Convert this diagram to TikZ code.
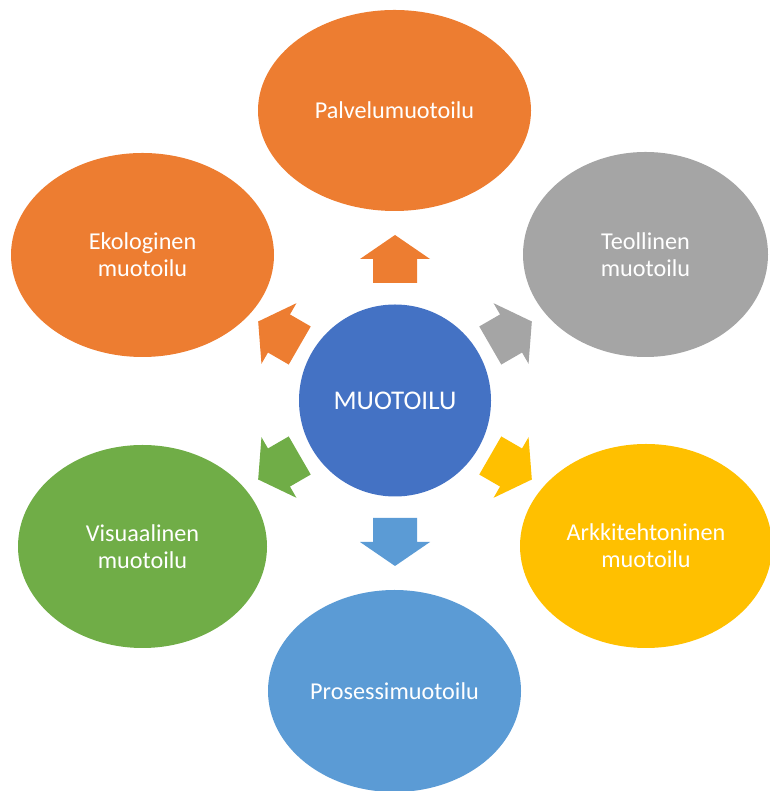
\documentclass[tikz,border=0pt]{standalone}
\usepackage{fontspec}
\setmainfont{Carlito}
\usetikzlibrary{shapes.geometric}
\definecolor{cOrange}{HTML}{ED7D31}
\definecolor{cGray}{HTML}{A5A5A5}
\definecolor{cYellow}{HTML}{FFC000}
\definecolor{cLBlue}{HTML}{5B9BD5}
\definecolor{cGreen}{HTML}{70AD47}
\definecolor{cCenter}{HTML}{4472C4}
\tikzset{
  blob/.style={ellipse, inner sep=0pt, draw=none, text=white, align=center,
    font=\fontsize{24.2}{27}\selectfont},
  hub/.style={circle, inner sep=0pt, minimum size=192pt, fill=cCenter, text=white,
    font=\fontsize{27}{30}\selectfont},
}
\newcommand\radarrow[3]{%
  \begin{scope}[shift={(hub.center)}, rotate=#1]
    \fill[#3] (#2-24,-22) -- (#2,-22) -- (#2,-35) -- (#2+24,0) -- (#2,35) -- (#2,22) -- (#2-24,22) -- cycle;
  \end{scope}}
\begin{document}
\begin{tikzpicture}[x=1pt,y=1pt]
\useasboundingbox (0,0) rectangle (769,791);
\node[hub] (hub) at (395,390.5) {MUOTOILU};
\node[blob, fill=cOrange, minimum width=273pt, minimum height=201pt] (palvelu) at (394.5,680.5) {Palvelumuotoilu};
\node[blob, fill=cGray, minimum width=245pt, minimum height=205pt] (teollinen) at (645.5,536.5) {Teollinen\\muotoilu};
\node[blob, fill=cYellow, minimum width=252pt, minimum height=204pt] (arkki) at (646,245) {Arkkitehtoninen\\muotoilu};
\node[blob, fill=cLBlue, minimum width=253pt, minimum height=202pt] (prosessi) at (394.5,100) {Prosessimuotoilu};
\node[blob, fill=cGreen, minimum width=249pt, minimum height=203pt] (visu) at (142.5,244.5) {Visuaalinen\\muotoilu};
\node[blob, fill=cOrange, minimum width=263pt, minimum height=204pt] (eko) at (142.5,536) {Ekologinen\\muotoilu};
\radarrow{90}{141.5}{cOrange}
\radarrow{30}{134}{cGray}
\radarrow{-30}{134}{cYellow}
\radarrow{-90}{141.5}{cLBlue}
\radarrow{-150}{134}{cGreen}
\radarrow{150}{134}{cOrange}
\end{tikzpicture}
\end{document}
